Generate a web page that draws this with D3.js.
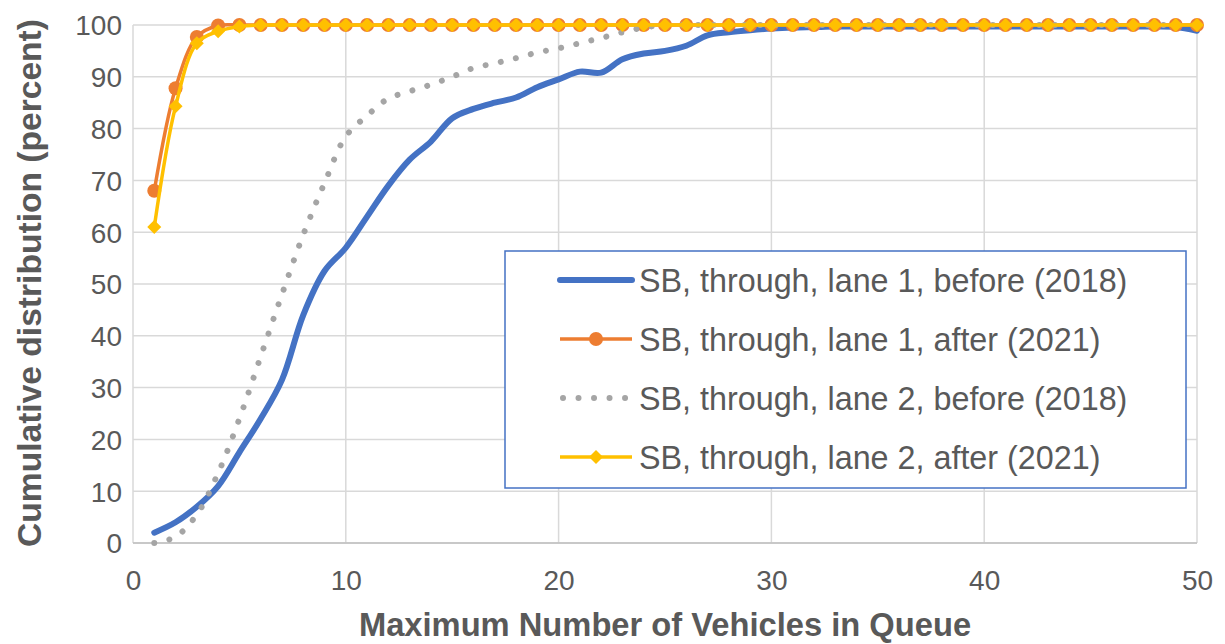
<!DOCTYPE html>
<html>
<head>
<meta charset="utf-8">
<script src="https://cdn.jsdelivr.net/npm/d3@7"></script>
<style>
  html, body { margin: 0; padding: 0; background: #fff; }
  svg text { font-family: "Liberation Sans", Arial, sans-serif; }
</style>
</head>
<body>
<svg id="chart" width="1225" height="644"></svg>
<script>
// ---- data ----
const queueLength = [1,2,3,4,5,6,7,8,9,10,11,12,13,14,15,16,17,18,19,20,21,22,23,24,25,26,27,28,29,30,31,32,33,34,35,36,37,38,39,40,41,42,43,44,45,46,47,48,49,50];
const lane1Before2018 = [2,4,7,11,17.5,24,31.5,44,52.5,57,63,69,74,77.5,82,83.8,85,86,88,89.5,91,90.8,93.4,94.5,95,96,98,98.6,99,99.3,99.5,99.6,99.7,99.7,99.7,99.7,99.7,99.7,99.7,99.7,99.7,99.7,99.7,99.7,99.7,99.7,99.7,99.7,99.6,98.9];
const lane1After2021 = [68,87.8,97.7,99.9,100,100,100,100,100,100,100,100,100,100,100,100,100,100,100,100,100,100,100,100,100,100,100,100,100,100,100,100,100,100,100,100,100,100,100,100,100,100,100,100,100,100,100,100,100,100];
const lane2Before2018 = [0,1.2,5.5,13.5,24,36,48,59.5,69.5,78.5,82.5,85.8,87.2,88.5,90,91.7,92.6,93.6,94.7,95.5,96.5,97.5,98.6,99.5,100,100,100,100,100,100,100,100,100,100,100,100,100,100,100,100,100,100,100,100,100,100,100,100,100,100];
const lane2After2021 = [61,84.3,96.5,98.8,99.7,100,100,100,100,100,100,100,100,100,100,100,100,100,100,100,100,100,100,100,100,100,100,100,100,100,100,100,100,100,100,100,100,100,100,100,100,100,100,100,100,100,100,100,100,100];
const seriesNames = ["SB, through, lane 1, before (2018)","SB, through, lane 1, after (2021)","SB, through, lane 2, before (2018)","SB, through, lane 2, after (2021)"];
const xTicks = [0,10,20,30,40,50];
const yTicks = [0,10,20,30,40,50,60,70,80,90,100];
const xTitle = "Maximum Number of Vehicles in Queue";
const yTitle = "Cumulative distribution (percent)";

// ---- layout ----
const svg = d3.select("#chart");
const plot = {left: 133, right: 1197, top: 25, bottom: 543};
const x = d3.scaleLinear().domain([0, 50]).range([plot.left, plot.right]);
const y = d3.scaleLinear().domain([0, 100]).range([plot.bottom, plot.top]);
const textColor = "#595959";

// gridlines
svg.append("g").selectAll("line.h").data(yTicks).join("line")
  .attr("x1", plot.left).attr("x2", plot.right)
  .attr("y1", d => y(d)).attr("y2", d => y(d))
  .attr("stroke", "#D9D9D9").attr("stroke-width", 1.5);
svg.append("g").selectAll("line.v").data(xTicks).join("line")
  .attr("x1", d => x(d)).attr("x2", d => x(d))
  .attr("y1", plot.top).attr("y2", plot.bottom)
  .attr("stroke", "#D9D9D9").attr("stroke-width", 1.5);
svg.append("line").attr("x1", plot.left).attr("x2", plot.right)
  .attr("y1", plot.bottom).attr("y2", plot.bottom)
  .attr("stroke", "#BFBFBF").attr("stroke-width", 1.5);

// axes via d3 axis generators, styled
const xAxis = svg.append("g").attr("transform", `translate(0,${plot.bottom})`)
  .call(d3.axisBottom(x).tickValues(xTicks).tickSize(0).tickPadding(36));
const yAxis = svg.append("g").attr("transform", `translate(${plot.left},0)`)
  .call(d3.axisLeft(y).tickValues(yTicks).tickSize(0).tickPadding(11));
[xAxis, yAxis].forEach(a => {
  a.select(".domain").remove();
  a.selectAll("text").attr("fill", textColor).attr("font-size", 28)
    .attr("font-family", "'Liberation Sans', Arial, sans-serif");
});
xAxis.selectAll("text").attr("dy", null).attr("y", 47);
yAxis.selectAll("text").attr("dy", "0.35em");

// titles
svg.append("text").attr("x", 665).attr("y", 636).attr("text-anchor", "middle")
  .attr("font-size", 32.7).attr("font-weight", "bold").attr("fill", textColor).text(xTitle);
svg.append("text").attr("transform", "translate(41,283) rotate(-90)").attr("text-anchor", "middle")
  .attr("font-size", 33.6).attr("font-weight", "bold").attr("fill", textColor).text(yTitle);

// series
const curve = d3.curveCatmullRom.alpha(0.5);
const line = d3.line().x(d => x(d[0])).y(d => y(d[1])).curve(curve);
const zip = vals => queueLength.map((q, i) => [q, vals[i]]);

const colors = {blue: "#4472C4", orange: "#ED7D31", gray: "#A5A5A5", yellow: "#FFC000"};
const diamond = d3.symbol().type(d3.symbolDiamond2).size(125);

// lane 1 before
svg.append("path").attr("d", line(zip(lane1Before2018))).attr("fill", "none")
  .attr("stroke", colors.blue).attr("stroke-width", 6).attr("stroke-linecap", "round");
// lane 1 after
svg.append("path").attr("d", line(zip(lane1After2021))).attr("fill", "none")
  .attr("stroke", colors.orange).attr("stroke-width", 3.5);
svg.append("g").selectAll("circle").data(zip(lane1After2021)).join("circle")
  .attr("cx", d => x(d[0])).attr("cy", d => y(d[1])).attr("r", 7)
  .attr("fill", colors.orange);
// lane 2 before
svg.append("path").attr("d", line(zip(lane2Before2018))).attr("fill", "none")
  .attr("stroke", colors.gray).attr("stroke-width", 6).attr("stroke-linecap", "round")
  .attr("stroke-dasharray", "0.01 15.5");
// lane 2 after
svg.append("path").attr("d", line(zip(lane2After2021))).attr("fill", "none")
  .attr("stroke", colors.yellow).attr("stroke-width", 3.5);
svg.append("g").selectAll("path").data(zip(lane2After2021)).join("path")
  .attr("transform", d => `translate(${x(d[0])},${y(d[1])})`)
  .attr("d", diamond).attr("fill", colors.yellow);

// legend
const legend = svg.append("g");
legend.append("rect").attr("x", 505).attr("y", 251).attr("width", 681).attr("height", 237)
  .attr("fill", "#fff").attr("stroke", "#4472C4").attr("stroke-width", 1.5);
const rowY = [280, 339, 398, 457];
const lx1 = 560, lx2 = 632;
seriesNames.forEach((name, i) => {
  const ry = rowY[i];
  const g = legend.append("g");
  if (i === 0) {
    g.append("line").attr("x1", lx1).attr("x2", lx2).attr("y1", ry).attr("y2", ry)
      .attr("stroke", colors.blue).attr("stroke-width", 6).attr("stroke-linecap", "round");
  } else if (i === 1) {
    g.append("line").attr("x1", lx1).attr("x2", lx2).attr("y1", ry).attr("y2", ry)
      .attr("stroke", colors.orange).attr("stroke-width", 3.5);
    g.append("circle").attr("cx", (lx1 + lx2) / 2).attr("cy", ry).attr("r", 7).attr("fill", colors.orange);
  } else if (i === 2) {
    g.append("line").attr("x1", lx1 + 3).attr("x2", lx2).attr("y1", ry).attr("y2", ry)
      .attr("stroke", colors.gray).attr("stroke-width", 6).attr("stroke-linecap", "round")
      .attr("stroke-dasharray", "0.01 15.5");
  } else {
    g.append("line").attr("x1", lx1).attr("x2", lx2).attr("y1", ry).attr("y2", ry)
      .attr("stroke", colors.yellow).attr("stroke-width", 3.5);
    g.append("path").attr("transform", `translate(${(lx1 + lx2) / 2},${ry})`)
      .attr("d", diamond).attr("fill", colors.yellow);
  }
  g.append("text").attr("x", 639).attr("y", ry).attr("dy", "0.36em")
    .attr("font-size", 32.3).attr("fill", textColor).text(name);
});
</script>
</body>
</html>
